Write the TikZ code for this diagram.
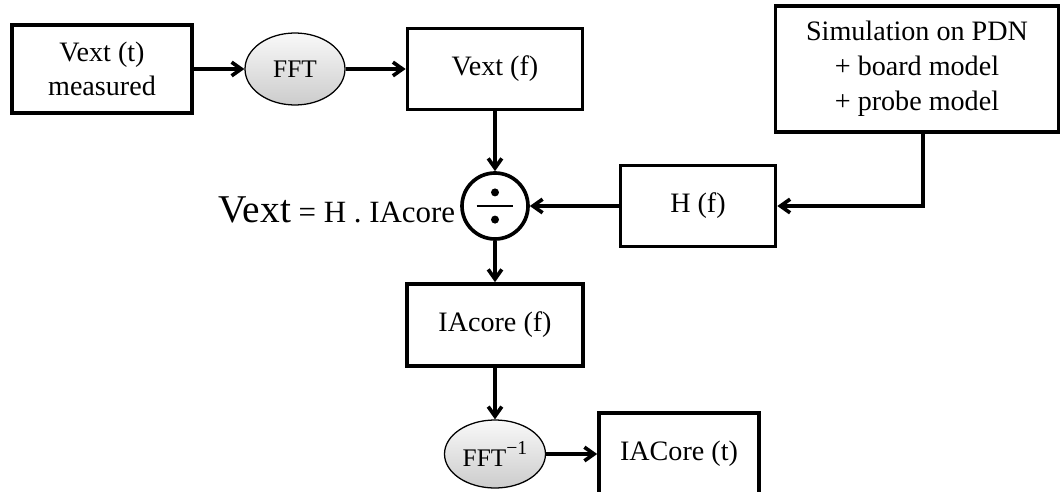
\documentclass[tikz,border=0pt]{standalone}
\usepackage{fontspec}
\setmainfont{Liberation Serif}
\usetikzlibrary{shapes, arrows.meta, positioning, calc}

\begin{document}
\begin{tikzpicture}[
    node distance=5cm,
    >={Straight Barb[length=2.4mm, width=3.4mm]},
    module/.style={rectangle, draw, line width=2.6pt, align=center, font=\fontsize{20}{24}\selectfont},
    transform/.style={ellipse, draw, line width=0.9pt, inner sep=1pt, top color=gray!5, bottom color=gray!40, font=\fontsize{18}{22}\selectfont},
    operator/.style={circle, draw, line width=2.6pt, minimum size=1.65cm},
    flow/.style={->, line width=2.6pt},
]
% Frame
\clip (0,0) rectangle (26.55,-12.3);

% Time domain input
\node (vt) [module, minimum width=4.5cm, minimum height=2.2cm] at (2.55,-1.725) {Vext (t)\\measured};
\node (fft) [transform, minimum width=2.5cm, minimum height=1.8cm, right of=vt, xshift=-0.175cm] {FFT};
\node (vf) [module, minimum width=4.375cm, minimum height=2.025cm, right of=fft] {Vext (f)};

% Transfer function
\node (sim) [module, minimum width=7.075cm, minimum height=3.15cm, right of=vf, xshift=5.55cm, font=\fontsize{20}{25}\selectfont] {Simulation on PDN\\+ board model\\+ probe model};
\node (div) [operator, below of=vf, yshift=1.575cm] {};
\node (hf) [module, minimum width=3.875cm, minimum height=2.025cm, right of=div, xshift=0.075cm] {H (f)};
\node (eqn) [left=0pt of div, yshift=-0.1cm, font=\fontsize{22}{24}\selectfont] {{\fontsize{28}{28}\selectfont Vext} = H . IAcore};

% Division sign
\draw [line width=1pt] ([xshift=-0.46cm]div.center) -- ([xshift=0.46cm]div.center);
\fill ([yshift=0.34cm]div.center) circle (0.1cm);
\fill ([yshift=-0.34cm]div.center) circle (0.1cm);

% Output
\node (iaf) [module, minimum width=4.4cm, minimum height=2.05cm, below of=div, yshift=2.025cm] {IAcore (f)};
\node (ifft) [transform, minimum width=2.525cm, minimum height=1.7cm, below of=iaf, yshift=1.775cm] {FFT\raisebox{0.45em}{\fontsize{14}{14}\selectfont −1}};
\node (iat) [module, minimum width=4cm, minimum height=2.05cm, right of=ifft, xshift=-0.4cm] {IACore (t)};

% Arrows
\draw [flow] (vt) -- (fft);
\draw [flow] (fft) -- (vf);
\draw [flow] (vf) -- (div);
\draw [flow] ([xshift=0.15cm]sim.south) |- (hf.east);
\draw [flow] (hf) -- (div);
\draw [flow] (div) -- (iaf);
\draw [flow] (iaf) -- (ifft);
\draw [flow] (ifft) -- (iat);

\end{tikzpicture}
\end{document}
